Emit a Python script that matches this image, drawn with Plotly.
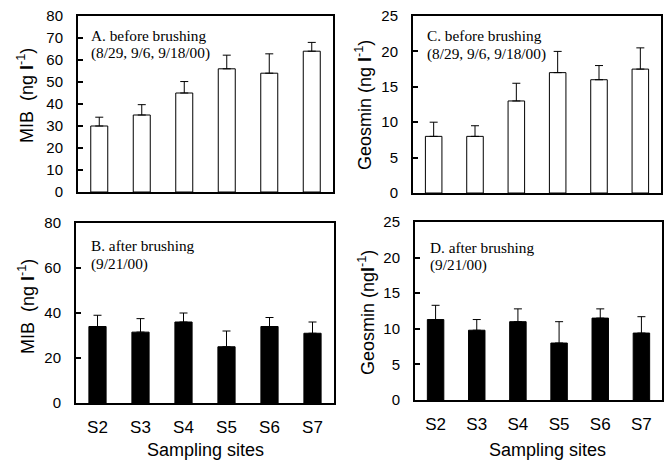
import plotly.graph_objects as go

sites = ["S2", "S3", "S4", "S5", "S6", "S7"]
mib_before = [30, 35, 45, 56, 54, 64]
mib_before_err = [4, 4.7, 5.2, 6.2, 8.8, 4]
mib_after = [34, 31.5, 36, 25, 34, 31]
mib_after_err = [5, 6, 4, 7, 4, 5]
geo_before = [8, 8, 13, 17, 16, 17.5]
geo_before_err = [2, 1.5, 2.5, 3, 2, 3]
geo_after = [11.3, 9.8, 11.0, 8.0, 11.5, 9.4]
geo_after_err = [2, 1.5, 1.8, 3, 1.3, 2.3]

W, H = 669, 462

def dx(a, b):
    return [a / W, b / W]

def dy(top, bot):
    return [1 - bot / H, 1 - top / H]

fig = go.Figure()

def add_bar(vals, errs, fill, xa, ya):
    fig.add_trace(go.Bar(
        x=sites, y=vals, width=0.4,
        marker=dict(color=fill, line=dict(color="black", width=1)),
        error_y=dict(type="data", symmetric=False, array=errs,
                     arrayminus=[0] * len(errs), color="black",
                     thickness=1, width=4),
        xaxis=xa, yaxis=ya, showlegend=False,
    ))

add_bar(mib_before, mib_before_err, "white", "x", "y")
add_bar(mib_after, mib_after_err, "black", "x2", "y2")
add_bar(geo_before, geo_before_err, "white", "x3", "y3")
add_bar(geo_after, geo_after_err, "black", "x4", "y4")

axis_common = dict(showline=True, linecolor="black", linewidth=2, mirror=True,
                   showgrid=False, zeroline=False, automargin=False)
tickfont_y = dict(family="Liberation Sans, Arial", size=15, color="black")
tickfont_x = dict(family="Liberation Sans, Arial", size=17, color="black")

def xax(domain, anchor, labels):
    d = dict(axis_common, domain=domain, anchor=anchor, type="category",
             range=[-0.5, 5.5], ticks="", showticklabels=labels,
             tickfont=tickfont_x, ticklabelstandoff=8)
    return d

def yax(domain, anchor, rng, dt):
    return dict(axis_common, domain=domain, anchor=anchor, range=rng, dtick=dt,
                ticks="inside", ticklen=5, tickwidth=1.5, tickcolor="black",
                tickfont=tickfont_y, ticklabelstandoff=10)

fig.update_layout(
    width=W, height=H,
    margin=dict(l=0, r=0, t=0, b=0, autoexpand=False),
    paper_bgcolor="white", plot_bgcolor="white",
    xaxis=xax(dx(78, 333), "y", False),
    yaxis=yax(dy(16, 192), "x", [0, 80], 10),
    xaxis2=xax(dx(76, 334), "y2", True),
    yaxis2=yax(dy(223, 403), "x2", [0, 80], 20),
    xaxis3=xax(dx(413, 661), "y3", False),
    yaxis3=yax(dy(16, 193), "x3", [0, 25], 5),
    xaxis4=xax(dx(415, 662), "y4", True),
    yaxis4=yax(dy(222, 400), "x4", [0, 25], 5),
)

serif = dict(family="Liberation Serif, Times New Roman", size=15.3, color="black")
sans_title = dict(family="Liberation Sans, Arial", size=18, color="black")

def ann(text, x, y, font, angle=0, xanchor="left"):
    fig.add_annotation(text=text, x=x / W, y=1 - y / H, xref="paper", yref="paper",
                       showarrow=False, font=font, textangle=angle,
                       xanchor=xanchor, yanchor="middle", align="left")

ann("A. before brushing", 89, 35, serif)
ann("(8/29, 9/6, 9/18/00)", 89, 53, serif)
ann("B. after brushing", 89, 246, serif)
ann("(9/21/00)", 89, 264, serif)
ann("C. before brushing", 425, 35, serif)
ann("(8/29, 9/6, 9/18/00)", 425, 54, serif)
ann("D. after brushing", 428, 247, serif)
ann("(9/21/00)", 428, 265, serif)

ann("MIB  (ng <b>l</b><sup>-1</sup>)", 26, 95, sans_title, angle=-90, xanchor="center")
ann("MIB  (ng <b>l</b><sup>-1</sup>)", 26, 306, sans_title, angle=-90, xanchor="center")
ann("Geosmin (ng <b>l</b><sup>-1</sup>)", 363, 105, sans_title, angle=-90, xanchor="center")
ann("Geosmin (ng<b>l</b><sup>-1</sup>)", 366, 313, sans_title, angle=-90, xanchor="center")

xt = dict(family="Liberation Sans, Arial", size=18, color="black")
ann("Sampling sites", 205, 450, xt, xanchor="center")
ann("Sampling sites", 547, 450, xt, xanchor="center")

fig.write_html("out.html",
               config={"displayModeBar": False},
               post_script="document.body.style.margin='0';document.body.style.padding='0';")
